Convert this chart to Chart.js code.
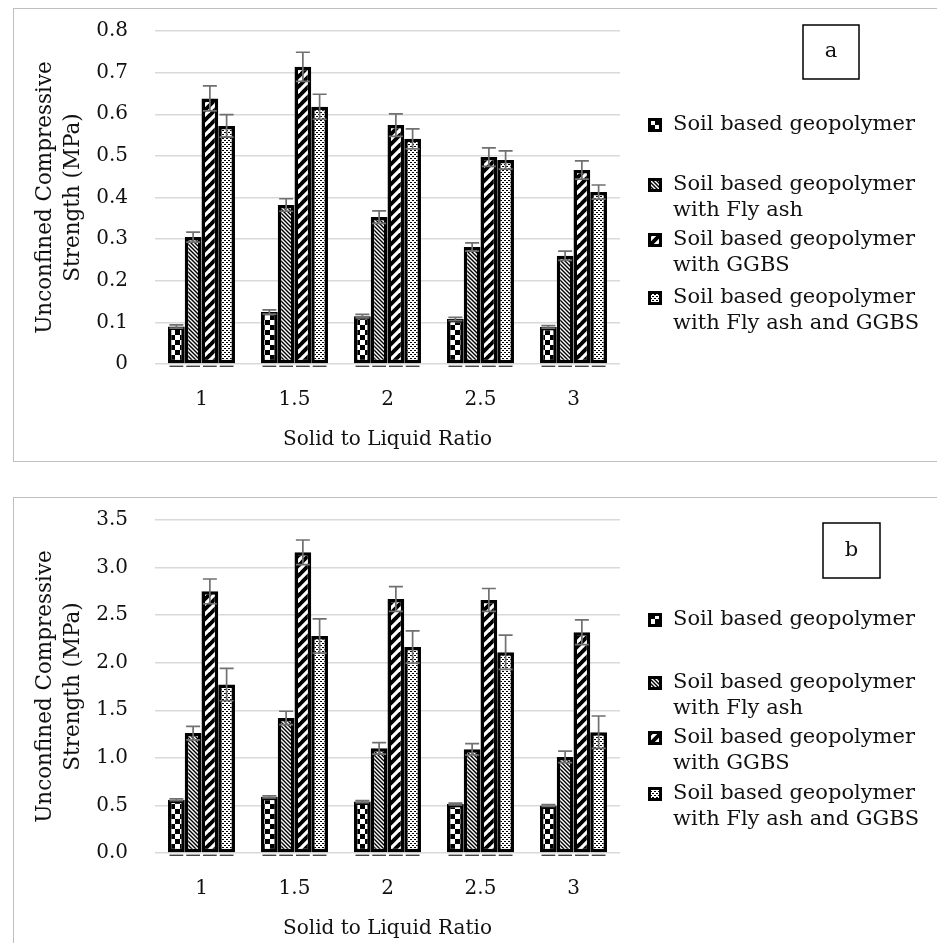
<!DOCTYPE html>
<html><head><meta charset="utf-8">
<script src="https://cdn.jsdelivr.net/npm/chart.js@4.4.1/dist/chart.umd.min.js"></script>
<style>
html,body{margin:0;padding:0;background:#fff;width:937px;height:943px;overflow:hidden;position:relative;}
.frame{position:absolute;left:13px;width:960px;border:1.5px solid #bfbfbf;box-sizing:border-box;}
.panel{position:absolute;left:0;width:937px;height:470px;}
canvas{position:absolute;left:0;top:0;}
</style></head><body>
<div class="frame" style="top:8px;height:454px"></div>
<div class="frame" style="top:497px;height:470px"></div>
<div class="panel" style="top:0"><canvas id="ca" width="937" height="470"></canvas></div>
<div class="panel" style="top:489px"><canvas id="cb" width="937" height="470"></canvas></div>
<script>
// ---------- data ----------
const categories = ['1', '1.5', '2', '2.5', '3'];
const seriesNames = [
  ['Soil based geopolymer'],
  ['Soil based geopolymer', 'with Fly ash'],
  ['Soil based geopolymer', 'with GGBS'],
  ['Soil based geopolymer', 'with Fly ash and GGBS']
];
const xTitle = 'Solid to Liquid Ratio';
const yTitle = ['Unconfined Compressive', 'Strength (MPa)'];
const yTicksA = ['0', '0.1', '0.2', '0.3', '0.4', '0.5', '0.6', '0.7', '0.8'];
const yTicksB = ['0.0', '0.5', '1.0', '1.5', '2.0', '2.5', '3.0', '3.5'];

// panel a
const soilA      = [0.090, 0.125, 0.115, 0.108, 0.089];
const flyAshA    = [0.305, 0.382, 0.353, 0.281, 0.260];
const ggbsA      = [0.638, 0.714, 0.574, 0.497, 0.466];
const flyGgbsA   = [0.572, 0.618, 0.541, 0.490, 0.413];
const soilErrA    = [0.004, 0.005, 0.004, 0.004, 0.003];
const flyAshErrA  = [0.012, 0.015, 0.015, 0.010, 0.011];
const ggbsErrA    = [0.030, 0.035, 0.027, 0.022, 0.022];
const flyGgbsErrA = [0.027, 0.030, 0.024, 0.022, 0.017];

// panel b
const soilB      = [0.56, 0.59, 0.54, 0.515, 0.50];
const flyAshB    = [1.26, 1.42, 1.10, 1.09, 1.01];
const ggbsB      = [2.75, 3.16, 2.67, 2.66, 2.32];
const flyGgbsB   = [1.77, 2.28, 2.165, 2.11, 1.27];
const soilErrB    = [0.01, 0.01, 0.01, 0.01, 0.01];
const flyAshErrB  = [0.07, 0.07, 0.06, 0.06, 0.06];
const ggbsErrB    = [0.13, 0.13, 0.13, 0.12, 0.13];
const flyGgbsErrB = [0.17, 0.18, 0.17, 0.18, 0.17];

// ---------- patterns ----------
const FONT = '"DejaVu Serif", "Liberation Serif", serif';
function tile(w, h, draw) {
  const c = document.createElement('canvas'); c.width = w; c.height = h;
  draw(c.getContext('2d'), w, h); return c;
}
const pctx = document.createElement('canvas').getContext('2d');
const pCheck = pctx.createPattern(tile(10, 10, g => {
  g.fillStyle = '#000'; g.fillRect(0, 0, 10, 10);
  g.fillStyle = '#fff'; g.fillRect(0, 0, 5, 5); g.fillRect(5, 5, 5, 5);
}), 'repeat');
const pFine = pctx.createPattern(tile(4, 4, g => {
  g.fillStyle = '#fff'; g.fillRect(0, 0, 4, 4);
  g.strokeStyle = '#000'; g.lineWidth = 1.4;
  for (const c of [-4, 0, 4]) { g.beginPath(); g.moveTo(-1, c - 1); g.lineTo(5, c + 5); g.stroke(); }
}), 'repeat');
const pWide = pctx.createPattern(tile(10, 10, g => {
  g.fillStyle = '#000'; g.fillRect(0, 0, 10, 10);
  g.strokeStyle = '#fff'; g.lineWidth = 3.2;
  for (const c of [0, 10, 20]) { g.beginPath(); g.moveTo(-1, c + 1); g.lineTo(11, c - 11); g.stroke(); }
}), 'repeat');
const pDots = pctx.createPattern(tile(4, 4, g => {
  g.fillStyle = '#fff'; g.fillRect(0, 0, 4, 4);
  g.fillStyle = '#000'; g.fillRect(0, 0, 2, 1); g.fillRect(2, 2, 2, 1);
}), 'repeat');
const fills = [pCheck, pFine, pWide, pDots];

// ---------- decoration plugin (error bars, legend, panel letter) ----------
const deco = {
  id: 'deco',
  afterDatasetsDraw(chart) {
    const ctx = chart.ctx, ys = chart.scales.y;
    chart.data.datasets.forEach((ds, di) => {
      chart.getDatasetMeta(di).data.forEach((bar, i) => {
        const v = ds.data[i], e = ds.errors[i];
        const yt = ys.getPixelForValue(v + e), yb = ys.getPixelForValue(v - e);
        ctx.save();
        ctx.strokeStyle = '#222'; ctx.lineWidth = 1.2;
        ctx.beginPath();
        ctx.moveTo(bar.x - bar.width / 2 + 1.5, bar.base + 3);
        ctx.lineTo(bar.x + bar.width / 2 - 1.5, bar.base + 3);
        ctx.stroke();
        ctx.strokeStyle = '#707070'; ctx.lineWidth = 1.7;
        ctx.beginPath();
        ctx.moveTo(bar.x, yt); ctx.lineTo(bar.x, yb);
        ctx.moveTo(bar.x - 7, yt); ctx.lineTo(bar.x + 7, yt);
        ctx.moveTo(bar.x - 7, yb); ctx.lineTo(bar.x + 7, yb);
        ctx.stroke();
        ctx.restore();
      });
    });
  },
  afterDraw(chart, args, o) {
    const ctx = chart.ctx;
    ctx.save();
    ctx.font = '21px ' + FONT;
    ctx.textBaseline = 'middle';
    seriesNames.forEach((lines, i) => {
      const y0 = o.legendY[i];
      ctx.fillStyle = '#000';
      ctx.fillRect(o.legendX, y0 - 7, 14, 14);
      ctx.fillStyle = fills[i];
      ctx.fillRect(o.legendX + 3, y0 - 4, 8, 8);
      ctx.fillStyle = '#111'; ctx.textAlign = 'left';
      lines.forEach((t, k) => ctx.fillText(t, o.legendX + 25, y0 + k * o.lineGap));
    });
    const b = o.box;
    ctx.strokeStyle = '#000'; ctx.lineWidth = 1.5;
    ctx.strokeRect(b.x, b.y, b.w, b.h);
    ctx.textAlign = 'center';
    ctx.fillText(o.letter, b.x + b.w / 2, b.y + b.h / 2);
    ctx.restore();
  }
};

function build(id, vals, errs, yTicks, max, step, decoOpts) {
  return new Chart(document.getElementById(id), {
    type: 'bar',
    data: {
      labels: categories,
      datasets: vals.map((d, i) => ({
        label: seriesNames[i].join(' '),
        data: d,
        errors: errs[i],
        backgroundColor: fills[i],
        borderColor: '#000',
        borderWidth: 3.5,
        borderSkipped: false,
        categoryPercentage: 0.72,
        barPercentage: 1.0
      }))
    },
    options: {
      responsive: false,
      animation: false,
      layout: { padding: { left: 0, top: 31, right: 317, bottom: 0 } },
      plugins: { legend: { display: false }, tooltip: { enabled: false }, deco: decoOpts },
      scales: {
        x: {
          grid: { display: false, drawTicks: false },
          border: { display: false },
          ticks: { padding: 24, color: '#111', font: { family: FONT, size: 20 } },
          title: { display: true, text: xTitle, color: '#111',
                   font: { family: FONT, size: 20 }, padding: { top: 0, bottom: 18 } },
          afterFit(s) { s.height = 106; }
        },
        y: {
          min: 0, max: max,
          grid: { color: '#d9d9d9', lineWidth: 1.5, drawTicks: false },
          border: { display: false },
          ticks: { stepSize: step, padding: 27, color: '#111',
                   font: { family: FONT, size: 20 },
                   callback: (v, i) => yTicks[i] },
          title: { display: true, text: yTitle, color: '#111',
                   font: { family: FONT, size: 21.5, lineHeight: 1.3 }, padding: { top: 31, bottom: 0 } },
          afterFit(s) { s.width = 155; s.paddingTop = 0; s.paddingBottom = 0; }
        }
      }
    },
    plugins: [deco]
  });
}

build('ca',
  [soilA, flyAshA, ggbsA, flyGgbsA],
  [soilErrA, flyAshErrA, ggbsErrA, flyGgbsErrA],
  yTicksA, 0.8, 0.1,
  { legendX: 648, legendY: [125, 185, 240, 298], lineGap: 26, letter: 'a',
    box: { x: 803, y: 25, w: 56, h: 54 } });

build('cb',
  [soilB, flyAshB, ggbsB, flyGgbsB],
  [soilErrB, flyAshErrB, ggbsErrB, flyGgbsErrB],
  yTicksB, 3.5, 0.5,
  { legendX: 648, legendY: [131, 194, 249, 305], lineGap: 26, letter: 'b',
    box: { x: 823, y: 34, w: 57, h: 55 } });
</script>
</body></html>
